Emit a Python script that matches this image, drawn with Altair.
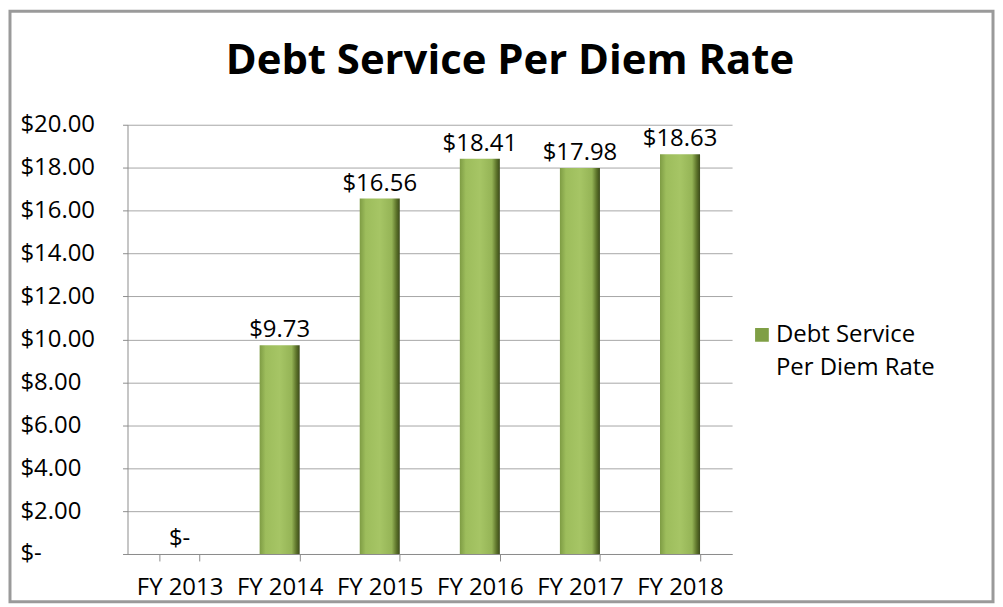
import altair as alt
import pandas as pd

categories = ["FY 2013", "FY 2014", "FY 2015", "FY 2016", "FY 2017", "FY 2018"]
values = [0.0, 9.73, 16.56, 18.41, 17.98, 18.63]
series_name = "Debt Service Per Diem Rate"
legend_lines = ["Debt Service", "Per Diem Rate"]
y_ticks = [0, 2, 4, 6, 8, 10, 12, 14, 16, 18, 20]

df = pd.DataFrame({"year": categories, "value": values})
one = pd.DataFrame({"t": [series_name]})

FONT = "Open Sans"
W, H = 607, 431
PAD_L, PAD_T = 120, 116

gradient = alt.Gradient(
    gradient="linear", x1=0, x2=1, y1=0, y2=0,
    stops=[
        alt.GradientStop(color="#7e9c44", offset=0),
        alt.GradientStop(color="#9dbd5c", offset=0.15),
        alt.GradientStop(color="#a6c565", offset=0.5),
        alt.GradientStop(color="#95b456", offset=0.8),
        alt.GradientStop(color="#5b7129", offset=0.92),
        alt.GradientStop(color="#3b4a1a", offset=1),
    ],
)

x_enc = alt.X("year:N", sort=categories, title=None,
              scale=alt.Scale(paddingInner=0.6, paddingOuter=0.32),
              axis=alt.Axis(labelAngle=0, tickBand="extent", labelFont=FONT,
                            labelFontSize=24, labelColor="#000000", labelPadding=15,
                            tickSize=7, tickColor="#8c8c8c", domainColor="#8c8c8c",
                            grid=False))
y_enc = alt.Y("value:Q", title=None,
              scale=alt.Scale(domain=[0, 20], nice=False),
              axis=alt.Axis(values=y_ticks, labelAlign="left", labelPadding=103,
                            tickSize=5, labelFont=FONT, labelFontSize=24,
                            labelColor="#000000", gridColor="#a6a6a6",
                            tickColor="#8c8c8c", domainColor="#8c8c8c",
                            labelExpr="datum.value == 0 ? '$-' : format(datum.value, '$.2f')"))

bars = alt.Chart(df).mark_bar(fill=gradient).encode(x=x_enc, y=y_enc)

labels = alt.Chart(df).transform_calculate(
    label="datum.value == 0 ? '$-' : format(datum.value, '$.2f')"
).mark_text(baseline="alphabetic", dy=-8, font=FONT, fontSize=24, color="#000000").encode(
    x=alt.X("year:N", sort=categories), y="value:Q", text="label:N"
)

title = alt.Chart(one).mark_text(font=FONT, fontSize=42, fontWeight="bold",
                                 color="#000000", align="center", baseline="middle").encode(
    x=alt.value(512 - 8 - PAD_L), y=alt.value(60 - 8 - PAD_T), text="t:N"
)

legend_symbol = alt.Chart(one).mark_square(size=190, color="#7f9f45", opacity=1).encode(
    x=alt.value(765 - 8 - PAD_L), y=alt.value(335 - 8 - PAD_T)
)
legend_text = alt.Chart(one).transform_calculate(
    lines=f"{legend_lines!r}"
).mark_text(font=FONT, fontSize=24, color="#000000", align="left", baseline="middle",
            lineHeight=33).encode(
    x=alt.value(779 - 8 - PAD_L), y=alt.value(335 - 8 - PAD_T), text="lines:N"
)

frame = alt.Chart(one).mark_rect(fill=None, stroke="#9a9a9a", strokeWidth=3).encode(
    x=alt.value(-PAD_L + 2), x2=alt.value(W + 262), y=alt.value(-PAD_T + 2), y2=alt.value(H + 48)
)

chart = alt.layer(bars, labels, title, legend_symbol, legend_text, frame).properties(
    width=W, height=H,
    autosize=alt.AutoSizeParams(type="none"),
    padding={"left": PAD_L, "top": PAD_T, "right": 264, "bottom": 50},
).configure_view(stroke=None).configure_axis(gridWidth=1)

chart.save("out.html", embed_options={"renderer": "svg", "actions": False})
